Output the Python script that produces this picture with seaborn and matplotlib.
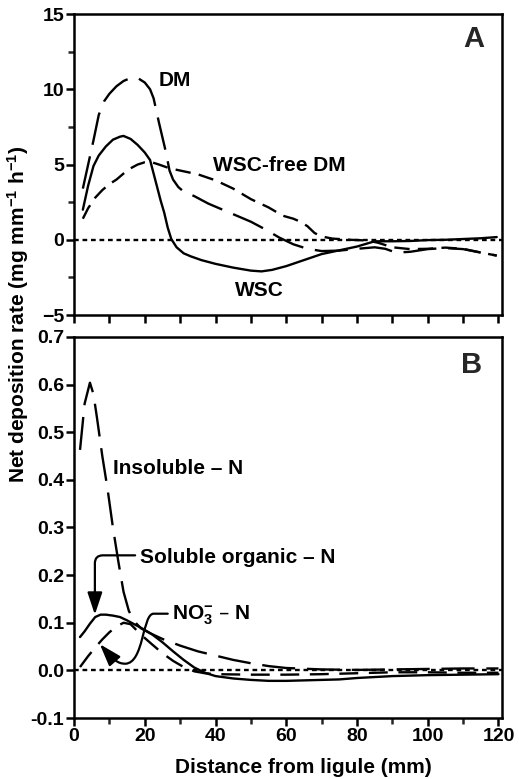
import matplotlib

matplotlib.use("Agg")
import matplotlib.pyplot as plt
import seaborn as sns
from matplotlib.patches import FancyArrowPatch
from matplotlib.path import Path
from matplotlib.ticker import FormatStrFormatter, MultipleLocator

# Panel A: dry matter deposition (mg mm-1 h-1)
dm_x = [2.5, 4, 5.5, 7, 8.5, 10, 12, 14, 16, 18, 20, 21.5, 22.5, 24, 25, 26, 27, 28,
        29.5, 31, 34, 38, 42, 46, 50, 54, 58, 62, 66, 70, 75, 80, 85, 88, 91, 95,
        100, 105, 110, 115, 119.5]
dm_y = [3.4, 5.0, 6.6, 8.3, 9.2, 9.7, 10.2, 10.55, 10.75, 10.75, 10.45, 10.0, 9.4, 7.8,
        6.8, 5.8, 4.6, 4.0, 3.5, 3.2, 2.9, 2.4, 2.0, 1.6, 1.2, 0.7, 0.15, -0.3, -0.6,
        -0.75, -0.72, -0.6, -0.5, -0.6, -0.85, -0.8, -0.62, -0.55, -0.62, -0.85, -1.05]

wsc_x = [2.5, 4, 5.5, 7, 9, 11, 13, 14, 16, 18, 20, 21.5, 22.5, 23.5, 24.5, 25.5, 26.5,
         27.5, 29, 31, 33, 36, 40, 45, 50, 53, 56, 60, 65, 70, 75, 80, 85, 90, 95,
         100, 105, 110, 115, 119.5]
wsc_y = [2.0, 3.6, 4.9, 5.6, 6.2, 6.65, 6.85, 6.9, 6.7, 6.3, 5.8, 5.3, 4.4, 3.5, 2.6,
         1.8, 0.8, 0.05, -0.5, -0.9, -1.1, -1.35, -1.6, -1.85, -2.05, -2.1, -2.0, -1.75,
         -1.35, -0.95, -0.7, -0.45, -0.1, -0.1, -0.08, -0.02, 0.0, 0.05, 0.1, 0.18]

free_x = [2.5, 4, 6, 8, 10, 12, 14, 16, 18, 20, 22, 24, 27, 30, 35, 40, 45, 50, 55,
          59, 62, 64, 66, 68, 70, 73, 78, 83, 86, 90, 95, 100, 105, 110, 115, 119.5]
free_y = [1.4, 2.1, 2.8, 3.3, 3.7, 4.0, 4.4, 4.75, 5.0, 5.15, 5.15, 5.0, 4.75, 4.6,
          4.35, 3.95, 3.4, 2.7, 2.15, 1.6, 1.4, 1.2, 0.9, 0.45, 0.22, 0.08, 0.0, -0.05,
          -0.2, -0.5, -0.62, -0.6, -0.52, -0.6, -0.85, -1.05]

# Panel B: nitrogen deposition
insol_x = [1.7, 3, 4.5, 5.5, 6.5, 8, 9.5, 11, 12.5, 14, 15.5, 17, 19, 21.5, 25, 30, 35,
           40, 45, 50, 55, 60, 70, 80, 90, 100, 110, 120]
insol_y = [0.463, 0.56, 0.604, 0.58, 0.53, 0.45, 0.38, 0.3, 0.23, 0.165, 0.125, 0.103,
           0.088, 0.078, 0.066, 0.052, 0.04, 0.031, 0.022, 0.015, 0.009, 0.005, 0.002,
           0.001, 0.002, 0.003, 0.004, 0.004]

solorg_x = [1.7, 3, 4.5, 6, 7.5, 9, 11, 13, 15, 17, 19.5, 22, 25, 28, 31, 34, 37, 40,
            45, 50, 55, 60, 65, 70, 75, 80, 85, 90, 95, 100, 110, 120]
solorg_y = [0.07, 0.082, 0.098, 0.112, 0.117, 0.117, 0.115, 0.112, 0.105, 0.097, 0.087,
            0.076, 0.059, 0.04, 0.022, 0.006, -0.005, -0.012, -0.017, -0.02, -0.022,
            -0.022, -0.021, -0.02, -0.019, -0.016, -0.014, -0.012, -0.011, -0.01,
            -0.009, -0.008]

no3_x = [1.7, 4, 6, 8, 10, 12, 14, 16, 18, 20, 22, 25, 28, 31, 34, 37, 40, 50, 60, 70,
         80, 90, 100, 110, 120]
no3_y = [0.007, 0.03, 0.048, 0.065, 0.08, 0.092, 0.1, 0.097, 0.082, 0.068, 0.055, 0.036,
         0.02, 0.007, -0.002, -0.006, -0.008, -0.009, -0.009, -0.008, -0.006, -0.004,
         -0.004, -0.005, -0.005]

LONG = (0, (14, 5))
SHORT = (0, (6.5, 3.5))
MED = (0, (8, 4.5))
ZERO = (0, (2, 1.6))

sns.set_theme(style="ticks")
plt.rcParams["font.family"] = ["Liberation Sans", "DejaVu Sans"]
plt.rcParams["font.weight"] = "bold"
plt.rcParams["mathtext.default"] = "regular"

fig = plt.figure(figsize=(5.19, 7.79), dpi=100)
ax_a = fig.add_axes([0.1426, 0.5956, 0.8247, 0.3864])
ax_b = fig.add_axes([0.1426, 0.0783, 0.8247, 0.4891])

for ax in (ax_a, ax_b):
    ax.axhline(0, color="black", lw=1.7, linestyle=ZERO, zorder=1)

sns.lineplot(x=dm_x, y=dm_y, ax=ax_a, color="black", lw=1.7, linestyle=LONG)
sns.lineplot(x=wsc_x, y=wsc_y, ax=ax_a, color="black", lw=1.7)
sns.lineplot(x=free_x, y=free_y, ax=ax_a, color="black", lw=1.7, linestyle=SHORT)

sns.lineplot(x=insol_x, y=insol_y, ax=ax_b, color="black", lw=1.7, linestyle=LONG)
sns.lineplot(x=solorg_x, y=solorg_y, ax=ax_b, color="black", lw=1.7)
sns.lineplot(x=no3_x, y=no3_y, ax=ax_b, color="black", lw=1.7, linestyle=MED)

ax_a.set_xlim(0, 121)
ax_a.set_ylim(-5, 15)
ax_a.yaxis.set_major_locator(MultipleLocator(5))
ax_a.yaxis.set_minor_locator(MultipleLocator(2.5))
ax_a.xaxis.set_major_locator(MultipleLocator(10))
ax_a.tick_params(labelbottom=False)

ax_b.set_xlim(0, 121)
ax_b.set_ylim(-0.1, 0.7)
ax_b.yaxis.set_major_locator(MultipleLocator(0.1))
ax_b.xaxis.set_major_locator(MultipleLocator(20))
ax_b.xaxis.set_minor_locator(MultipleLocator(10))
ax_b.yaxis.set_major_formatter(FormatStrFormatter("%.1f"))

for ax in (ax_a, ax_b):
    for sp in ax.spines.values():
        sp.set_visible(True)
        sp.set_linewidth(1.8)
        sp.set_color("black")
    ax.tick_params(which="major", direction="out", length=5.5, width=1.8,
                   labelsize=14, pad=1.5, colors="black")
    ax.tick_params(which="minor", direction="out", length=4, width=1.8)
    ax.set_xlabel("")
    ax.set_ylabel("")

txt = dict(fontsize=15, fontweight="bold", color="black")
ax_a.text(113, 12.8, "A", ha="center", va="baseline", fontsize=21, fontweight="bold")
ax_a.text(28.5, 10.2, "DM", ha="center", va="baseline", **txt)
ax_a.text(57.9, 4.57, "WSC-free DM", ha="center", va="baseline", **txt)
ax_a.text(52.5, -3.74, "WSC", ha="center", va="baseline", **txt)

ax_b.text(112.4, 0.625, "B", ha="center", va="baseline", fontsize=21, fontweight="bold")
ax_b.text(11.0, 0.4126, "Insoluble – N", ha="left", va="baseline", **txt)
ax_b.annotate("Soluble organic – N", xy=(5.9, 0.117), xytext=(18.6, 0.226),
              ha="left", va="baseline", **txt,
              arrowprops=dict(arrowstyle="-|>,head_length=0.9,head_width=0.3",
                              color="black", lw=1.6, relpos=(0, 0.6),
                              connectionstyle="angle,angleA=0,angleB=90,rad=8",
                              shrinkA=1, shrinkB=0))
ax_b.text(27.6, 0.106, "NO$_3^{-}$ – N", ha="left", va="baseline", **txt)

no3_path = Path(
    [(26.5, 0.119), (22.5, 0.119), (19.3, 0.119), (19.8, 0.015), (14.5, 0.014),
     (12.3, 0.014), (11.2, 0.022), (7.3, 0.055)],
    [Path.MOVETO, Path.LINETO, Path.CURVE4, Path.CURVE4, Path.CURVE4,
     Path.CURVE4, Path.CURVE4, Path.CURVE4],
)
ax_b.add_patch(FancyArrowPatch(path=no3_path, transform=ax_b.transData,
                               arrowstyle="-|>,head_length=0.9,head_width=0.3",
                               mutation_scale=15, color="black", lw=1.6))

ax_b.set_xlabel("Distance from ligule (mm)", fontsize=15, fontweight="bold", color="black")
ax_b.xaxis.set_label_coords(0.535, -0.105)
fig.text(0.0356, 0.596, "Net deposition rate (mg mm$^{-1}$ h$^{-1}$)", rotation=90,
         ha="center", va="center", fontsize=15, fontweight="bold", color="black")

# tick labels are rebuilt on draw, so make them bold after a first draw
fig.canvas.draw()
for ax in (ax_a, ax_b):
    for lab in ax.get_xticklabels() + ax.get_yticklabels():
        lab.set_fontweight("bold")
        lab.set_fontsize(14)

fig.savefig("out.png", dpi=100, facecolor="white")
plt.close(fig)
